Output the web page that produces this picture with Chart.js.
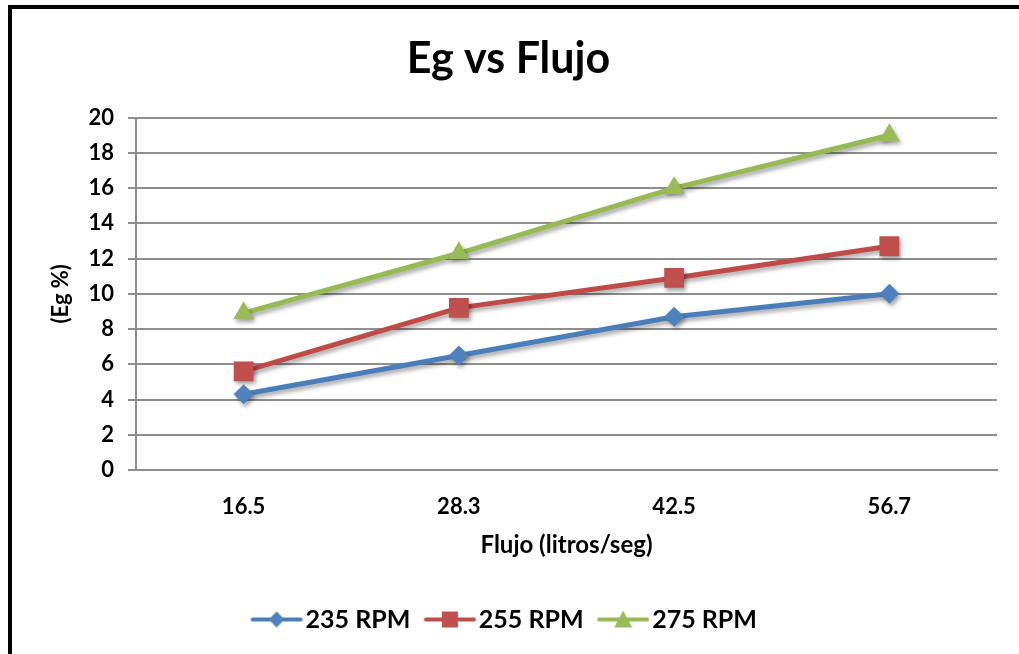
<!DOCTYPE html>
<html>
<head>
<meta charset="utf-8">
<script src="https://cdn.jsdelivr.net/npm/chart.js@4.4.1/dist/chart.umd.min.js"></script>
<style>
  html, body { margin: 0; padding: 0; background: #fff; overflow: hidden; }
  #wrap { position: relative; width: 1019px; height: 654px; overflow: hidden; }
  #frame { position: absolute; left: 8px; top: 5px; width: 1100px; height: 700px;
           border: 4px solid #000; box-sizing: border-box; }
  #c { position: absolute; left: 0; top: 0; }
</style>
</head>
<body>
<div id="wrap">
  <div id="frame"></div>
  <canvas id="c" width="1019" height="654"></canvas>
</div>
<script>
// Flow rates (litros/seg) and efficiency Eg (%) per pump speed
const flujo = ['16.5', '28.3', '42.5', '56.7'];
const rpm235 = [4.3, 6.5, 8.7, 10.0];
const rpm255 = [5.6, 9.2, 10.9, 12.7];
const rpm275 = [8.9, 12.3, 16.0, 19.0];
const seriesNames = ['235 RPM', '255 RPM', '275 RPM'];

const FONT = 'Lato, "Open Sans", sans-serif';
const W = 'bold';

const styles = [
  { line: '#4A7EBB', mark: '#4F81BD', point: 'rectRot', radius: 10 },
  { line: '#BE4B48', mark: '#C0504D', point: 'rect', radius: 14 },
  { line: '#98B954', mark: '#9BBB59', point: 'triangle', radius: 12 }
];

// Legend swatch: short line segment with the series marker in the middle
function legendSwatch(s) {
  const cv = document.createElement('canvas');
  cv.width = 62; cv.height = 24;
  const g = cv.getContext('2d');
  g.strokeStyle = s.line; g.lineWidth = 4; g.lineCap = 'round';
  g.beginPath(); g.moveTo(7, 12); g.lineTo(55, 12); g.stroke();
  g.fillStyle = s.mark;
  const cx = 31, cy = 12;
  g.beginPath();
  if (s.point === 'rectRot') {
    g.moveTo(cx, cy - 8); g.lineTo(cx + 8, cy); g.lineTo(cx, cy + 8); g.lineTo(cx - 8, cy);
  } else if (s.point === 'rect') {
    g.rect(cx - 8, cy - 8, 16, 16);
  } else {
    g.moveTo(cx, cy - 9); g.lineTo(cx + 9, cy + 8); g.lineTo(cx - 9, cy + 8);
  }
  g.closePath(); g.fill();
  return cv;
}

const values = [rpm235, rpm255, rpm275];
const datasets = values.map((v, i) => ({
  label: seriesNames[i],
  data: v,
  borderColor: styles[i].line,
  backgroundColor: styles[i].mark,
  borderWidth: 5,
  pointStyle: styles[i].point,
  pointRadius: styles[i].radius,
  pointHoverRadius: styles[i].radius,
  pointBackgroundColor: styles[i].mark,
  pointBorderColor: styles[i].mark,
  pointBorderWidth: 0,
  tension: 0,
  fill: false,
  swatch: legendSwatch(styles[i])
}));

// Soft drop shadow under the series lines
const shadowPlugin = {
  id: 'lineShadow',
  beforeDatasetsDraw(chart) {
    const ctx = chart.ctx;
    ctx.save();
    ctx.shadowColor = 'rgba(0,0,0,0.35)';
    ctx.shadowBlur = 4;
    ctx.shadowOffsetX = 2;
    ctx.shadowOffsetY = 3;
  },
  afterDatasetsDraw(chart) {
    chart.ctx.restore();
  }
};

new Chart(document.getElementById('c'), {
  type: 'line',
  data: { labels: flujo, datasets },
  plugins: [shadowPlugin],
  options: {
    responsive: false,
    animation: false,
    devicePixelRatio: 1,
    layout: { padding: { left: 20, right: 22, top: 0, bottom: 12 } },
    plugins: {
      tooltip: { enabled: false },
      title: {
        display: true,
        text: 'Eg vs Flujo',
        color: '#000',
        font: { family: FONT, size: 43, weight: W },
        padding: { top: 33, bottom: 33 }
      },
      legend: {
        position: 'bottom',
        labels: {
          color: '#000',
          font: { family: FONT, size: 25, weight: W },
          usePointStyle: true,
          pointStyleWidth: 33,
          padding: 23,
          generateLabels(chart) {
            return chart.data.datasets.map((d, i) => ({
              text: d.label,
              pointStyle: d.swatch,
              fillStyle: d.backgroundColor,
              strokeStyle: d.borderColor,
              lineWidth: 0,
              datasetIndex: i,
              hidden: false
            }));
          }
        }
      }
    },
    scales: {
      x: {
        type: 'category',
        offset: true,
        grid: { display: false, drawTicks: false },
        border: { display: true, color: '#8e8e8e', width: 2 },
        ticks: {
          color: '#000',
          padding: 24,
          font: { family: FONT, size: 22, weight: W }
        },
        title: {
          display: true,
          text: 'Flujo (litros/seg)',
          color: '#000',
          font: { family: FONT, size: 24, weight: W },
          padding: { top: 0, bottom: 24 }
        },
        afterFit(scale) { scale.height = 114; }
      },
      y: {
        min: 0,
        max: 20,
        ticks: {
          stepSize: 2,
          color: '#000',
          padding: 14,
          font: { family: FONT, size: 22, weight: W }
        },
        grid: { color: '#8e8e8e', lineWidth: 2, tickLength: 8, drawTicks: true },
        border: { display: true, color: '#8e8e8e', width: 2 },
        title: {
          display: true,
          text: '(Eg %)',
          color: '#000',
          font: { family: FONT, size: 22, weight: W },
          padding: { top: 28, bottom: 0 }
        },
        afterFit(scale) { scale.width = 116; }
      }
    }
  }
});
</script>
</body>
</html>
